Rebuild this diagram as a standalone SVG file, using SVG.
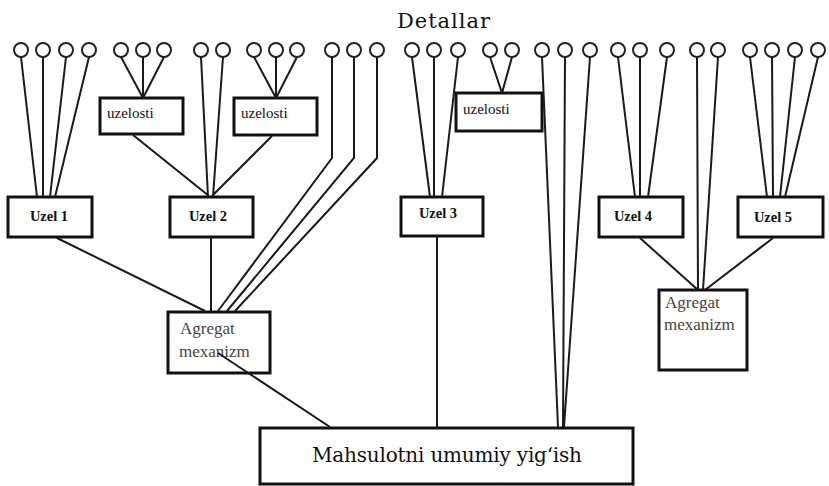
<svg xmlns="http://www.w3.org/2000/svg" width="829" height="486" viewBox="0 0 829 486">
<style>
.c{fill:#fff;stroke:#222;stroke-width:2}
.l{stroke:#1a1a1a;stroke-width:2;fill:none}
.b{fill:#fff;stroke:#111;stroke-width:3}
text{fill:#111}
.u{font-size:14.5px;font-weight:bold}
.s{font-size:15px}
.a{font-size:17px;fill:#444}
</style>
<rect width="829" height="486" fill="#fff"/>
<g id="details">
<text x="397" y="28" font-family="DejaVu Serif, serif" font-size="21" textLength="93">Detallar</text>
<circle class="c" cx="21" cy="50" r="7"/><circle class="c" cx="43" cy="50" r="7"/><circle class="c" cx="66" cy="50" r="7"/><circle class="c" cx="89" cy="50" r="7"/>
<circle class="c" cx="121" cy="50" r="7"/><circle class="c" cx="143" cy="50" r="7"/><circle class="c" cx="164" cy="50" r="7"/>
<circle class="c" cx="201" cy="50" r="7"/><circle class="c" cx="223" cy="50" r="7"/>
<circle class="c" cx="254" cy="50" r="7"/><circle class="c" cx="276" cy="50" r="7"/><circle class="c" cx="297" cy="50" r="7"/>
<circle class="c" cx="332" cy="50" r="7"/><circle class="c" cx="354" cy="50" r="7"/><circle class="c" cx="377" cy="50" r="7"/>
<circle class="c" cx="412" cy="50" r="7"/><circle class="c" cx="434" cy="50" r="7"/><circle class="c" cx="458" cy="50" r="7"/>
<circle class="c" cx="490" cy="50" r="7"/><circle class="c" cx="512" cy="50" r="7"/>
<circle class="c" cx="542" cy="50" r="7"/><circle class="c" cx="565" cy="50" r="7"/><circle class="c" cx="590" cy="50" r="7"/>
<circle class="c" cx="618" cy="50" r="7"/><circle class="c" cx="640" cy="50" r="7"/><circle class="c" cx="667" cy="50" r="7"/>
<circle class="c" cx="697" cy="50" r="7"/><circle class="c" cx="718" cy="50" r="7"/>
<circle class="c" cx="750" cy="50" r="7"/><circle class="c" cx="772" cy="50" r="7"/><circle class="c" cx="795" cy="50" r="7"/><circle class="c" cx="818" cy="50" r="7"/>
</g>
<g font-family="Liberation Serif, DejaVu Serif, serif">
<g id="uzelosti1"><rect class="b" x="100" y="98" width="83" height="36"/><text class="s" x="107" y="118">uzelosti</text></g>
<g id="uzelosti2"><rect class="b" x="234" y="98" width="83" height="37"/><text class="s" x="241" y="118">uzelosti</text></g>
<g id="uzelosti3"><rect class="b" x="456" y="93" width="86" height="38"/><text class="s" x="463" y="114">uzelosti</text></g>
<g id="uzel1"><rect class="b" x="8" y="197" width="84" height="40"/><text class="u" x="49" y="221" text-anchor="middle">Uzel 1</text></g>
<g id="uzel2"><rect class="b" x="170" y="197" width="83" height="40"/><text class="u" x="208" y="221" text-anchor="middle">Uzel 2</text></g>
<g id="uzel3"><rect class="b" x="401" y="197" width="82" height="39"/><text class="u" x="438" y="218" text-anchor="middle">Uzel 3</text></g>
<g id="uzel4"><rect class="b" x="599" y="197" width="84" height="40"/><text class="u" x="633" y="221" text-anchor="middle">Uzel 4</text></g>
<g id="uzel5"><rect class="b" x="738" y="197" width="85" height="40"/><text class="u" x="773" y="222" text-anchor="middle">Uzel 5</text></g>
<g id="agregat1"><rect class="b" x="168" y="312" width="102" height="61"/><text class="a" x="180" y="334">Agregat</text><text class="a" x="179" y="357">mexanizm</text></g>
<g id="agregat2"><rect class="b" x="659" y="290" width="88" height="80"/><text class="a" x="665" y="308" font-size="16">Agregat</text><text class="a" x="664" y="330" font-size="16">mexanizm</text></g>
<g id="mahsulot"><rect class="b" x="260" y="428" width="373" height="56"/><text x="312" y="462" font-family="DejaVu Serif, serif" font-size="20" textLength="270">Mahsulotni umumiy yig‘ish</text></g>
</g>
<g id="connectors">
<path class="l" d="M21,57L37,197M43,57L43,197M66,57L50,197M89,57L55,197"/>
<path class="l" d="M121,57L143,98M143,57L143,98M164,57L143,98"/>
<path class="l" d="M201,57L208,197M223,57L213,197M133,135L209,196M272,136L212,196"/>
<path class="l" d="M254,57L276,98M276,57L276,98M297,57L276,98"/>
<path class="l" d="M332,57L332,158L218,311M354,57L354,158L227,311M377,57L377,158L235,311"/>
<path class="l" d="M57,238L205,311M211,238L211,311M218,353L330,427"/>
<path class="l" d="M412,57L430,197M434,57L434,197M458,57L442,197M437,237L437,427"/>
<path class="l" d="M490,57L502,93M512,57L502,93"/>
<path class="l" d="M542,57L558,427M565,57L563,427M590,57L564,427"/>
<path class="l" d="M618,57L635,197M640,57L640,197M667,57L648,197"/>
<path class="l" d="M750,57L767,197M772,57L773,197M795,57L780,197M818,57L785,197"/>
<path class="l" d="M697,57L698,290M718,57L703,290M640,238L698,290M773,238L705,290"/>
</g>
</svg>
